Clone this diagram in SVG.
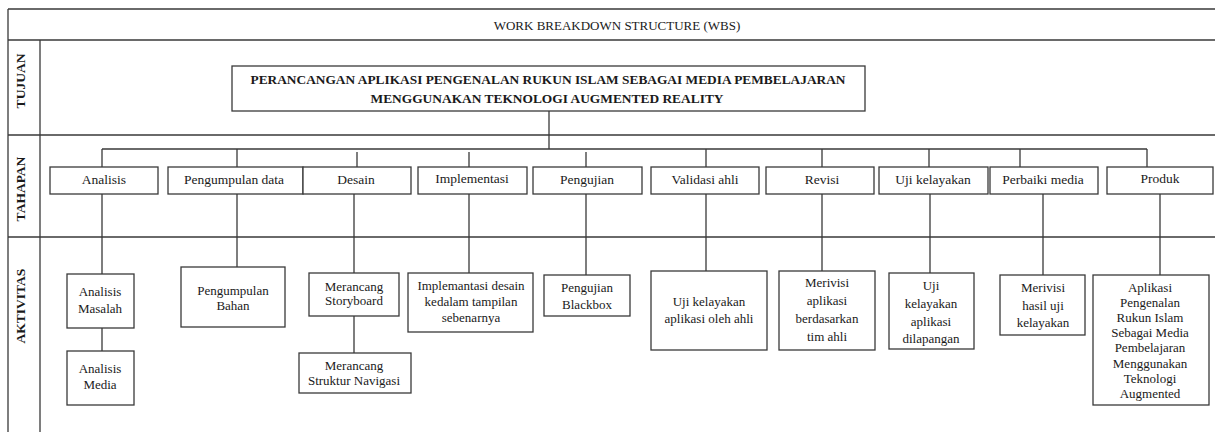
<svg xmlns="http://www.w3.org/2000/svg" width="1215" height="432" viewBox="0 0 1215 432">
<style>
.bg{fill:#fff}
.ln{stroke:#3a3a3a;stroke-width:1.3;fill:none}
.bx{fill:#fff;stroke:#3a3a3a;stroke-width:1.3}
.t{font-family:"Liberation Serif","Times New Roman",serif;font-size:13px;fill:#1a1a1a;text-anchor:middle}
.th{font-size:13.5px}
.b{font-weight:bold}
.side{font-family:"Liberation Serif","Times New Roman",serif;font-size:13.5px;font-weight:bold;fill:#1a1a1a;text-anchor:middle}
</style>
<rect class="bg" x="0" y="0" width="1215" height="432"/>
<g id="frame">
<path class="ln" d="M8,9H1215M8,9V432M8,40H1215M8,135H1215M8,237H1215M40,40V432"/>
<text class="t" x="617" y="30">WORK BREAKDOWN STRUCTURE (WBS)</text>
<text class="side" transform="translate(25,81) rotate(-90)">TUJUAN</text>
<text class="side" transform="translate(25,189) rotate(-90)">TAHAPAN</text>
<text class="side" transform="translate(25,306) rotate(-90)">AKTIVITAS</text>
</g>
<g id="connectors">
<path class="ln" d="M549,111V149M102,149H1147"/>
<path class="ln" d="M102,149V167M237,149V167M357,152V167M469,152V167M586,152V167M706,149V167M822,149V167M929,149V167M1020,149V167M1147,149V167"/>
<path class="ln" d="M102,194V274M237,194V267M354,194V273M469,194V274M586,194V275M706,194V274M822,194V271M930,194V273M1043,194V275M1160,194V275"/>
<path class="ln" d="M102,328V351M354,316V353"/>
</g>
<g id="goal">
<rect class="bx" x="232" y="66" width="633" height="45"/>
<text class="t b" x="548" y="84" textLength="595" lengthAdjust="spacingAndGlyphs">PERANCANGAN APLIKASI PENGENALAN RUKUN ISLAM SEBAGAI MEDIA PEMBELAJARAN</text>
<text class="t b" x="547" y="103" textLength="353" lengthAdjust="spacingAndGlyphs">MENGGUNAKAN TEKNOLOGI AUGMENTED REALITY</text>
</g>
<g id="t-analisis"><rect class="bx" x="50" y="167" width="108" height="27"/><text class="t th" x="104" y="184">Analisis</text></g>
<g id="t-pengumpulan"><rect class="bx" x="168" y="167" width="135" height="27"/><text class="t th" x="234" y="184">Pengumpulan data</text></g>
<g id="t-desain"><rect class="bx" x="303" y="167" width="108" height="27"/><text class="t th" x="356" y="184">Desain</text></g>
<g id="t-implementasi"><rect class="bx" x="418" y="167" width="109" height="27"/><text class="t th" x="472" y="183">Implementasi</text></g>
<g id="t-pengujian"><rect class="bx" x="533" y="167" width="109" height="27"/><text class="t th" x="587" y="184">Pengujian</text></g>
<g id="t-validasi"><rect class="bx" x="651" y="167" width="108" height="27"/><text class="t th" x="705" y="184">Validasi ahli</text></g>
<g id="t-revisi"><rect class="bx" x="766" y="167" width="108" height="27"/><text class="t th" x="822" y="184">Revisi</text></g>
<g id="t-uji"><rect class="bx" x="879" y="167" width="109" height="27"/><text class="t th" x="933" y="184">Uji kelayakan</text></g>
<g id="t-perbaiki"><rect class="bx" x="990" y="167" width="108" height="27"/><text class="t th" x="1043" y="184">Perbaiki media</text></g>
<g id="t-produk"><rect class="bx" x="1107" y="167" width="106" height="27"/><text class="t th" x="1160" y="183">Produk</text></g>
<g id="a-masalah"><rect class="bx" x="67" y="274" width="67" height="54"/><text class="t" x="100" y="296">Analisis</text><text class="t" x="100" y="313">Masalah</text></g>
<g id="a-media"><rect class="bx" x="67" y="351" width="67" height="54"/><text class="t" x="100" y="373">Analisis</text><text class="t" x="100" y="389">Media</text></g>
<g id="a-bahan"><rect class="bx" x="181" y="267" width="104" height="60"/><text class="t" x="233" y="295">Pengumpulan</text><text class="t" x="233" y="310">Bahan</text></g>
<g id="a-storyboard"><rect class="bx" x="309" y="273" width="90" height="43"/><text class="t" x="354" y="291">Merancang</text><text class="t" x="354" y="305">Storyboard</text></g>
<g id="a-navigasi"><rect class="bx" x="299" y="353" width="112" height="40"/><text class="t" x="354" y="370">Merancang</text><text class="t" x="354" y="385">Struktur Navigasi</text></g>
<g id="a-implementasi"><rect class="bx" x="408" y="273" width="125" height="59"/><text class="t" x="471" y="290">Implemantasi desain</text><text class="t" x="471" y="306">kedalam tampilan</text><text class="t" x="471" y="322">sebenarnya</text></g>
<g id="a-blackbox"><rect class="bx" x="544" y="275" width="86" height="41"/><text class="t" x="587" y="292">Pengujian</text><text class="t" x="587" y="309">Blackbox</text></g>
<g id="a-ujiahli"><rect class="bx" x="651" y="271" width="116" height="79"/><text class="t" x="709" y="306">Uji kelayakan</text><text class="t" x="709" y="323">aplikasi oleh ahli</text></g>
<g id="a-merivisi"><rect class="bx" x="779" y="271" width="96" height="79"/><text class="t" x="827" y="287">Merivisi</text><text class="t" x="827" y="305">aplikasi</text><text class="t" x="827" y="323">berdasarkan</text><text class="t" x="827" y="341">tim ahli</text></g>
<g id="a-lapangan"><rect class="bx" x="889" y="273" width="85" height="76"/><text class="t" x="931" y="290">Uji</text><text class="t" x="931" y="308">kelayakan</text><text class="t" x="931" y="326">aplikasi</text><text class="t" x="931" y="343">dilapangan</text></g>
<g id="a-hasil"><rect class="bx" x="1000" y="275" width="85" height="60"/><text class="t" x="1043" y="292">Merivisi</text><text class="t" x="1043" y="310">hasil uji</text><text class="t" x="1043" y="327">kelayakan</text></g>
<g id="a-produk"><rect class="bx" x="1093" y="275" width="116" height="130"/><text class="t" x="1150" y="292">Aplikasi</text><text class="t" x="1150" y="307">Pengenalan</text><text class="t" x="1150" y="322">Rukun Islam</text><text class="t" x="1150" y="337">Sebagai Media</text><text class="t" x="1150" y="352">Pembelajaran</text><text class="t" x="1150" y="368">Menggunakan</text><text class="t" x="1150" y="383">Teknologi</text><text class="t" x="1150" y="398">Augmented</text></g>
</svg>
